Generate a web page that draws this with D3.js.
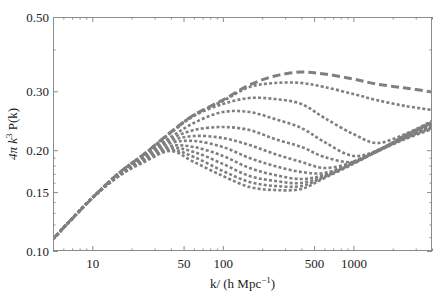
<!DOCTYPE html>
<html>
<head>
<meta charset="utf-8">
<script src="https://cdn.jsdelivr.net/npm/d3@7"></script>
<style>
  html, body { margin: 0; padding: 0; background: #fff; }
  svg { display: block; }
  text { font-family: "Liberation Serif", "DejaVu Serif", serif; fill: #222; }
</style>
</head>
<body>
<svg id="chart" width="436" height="295"></svg>
<script>
// ─── Data ─────────────────────────────────────────────────────────────────────
const kValues = [5, 10, 16, 25, 40, 60, 100, 160, 250, 400, 600, 1000, 1500, 2500, 4000];

const dashedCurve = [0.1086, 0.1440, 0.1710, 0.1949, 0.2267, 0.2548, 0.2825, 0.3132, 0.3332, 0.3425, 0.3378, 0.3264, 0.3154, 0.3068, 0.2985];

const dotted1  = [0.1086, 0.1440, 0.1710, 0.1949, 0.2267, 0.2548, 0.2806, 0.3089, 0.3176, 0.3176, 0.3089, 0.2944, 0.2825, 0.2711, 0.2638];
const dotted2  = [0.1086, 0.1440, 0.1710, 0.1949, 0.2251, 0.2531, 0.2748, 0.2864, 0.2844, 0.2748, 0.2497, 0.2236, 0.2102, 0.2236, 0.2446];
const dotted3  = [0.1086, 0.1440, 0.1710, 0.1936, 0.2190, 0.2412, 0.2601, 0.2601, 0.2479, 0.2330, 0.2116, 0.1923, 0.1989, 0.2221, 0.2429];
const dotted4  = [0.1086, 0.1440, 0.1698, 0.1923, 0.2160, 0.2298, 0.2346, 0.2298, 0.2160, 0.2045, 0.1909, 0.1845, 0.1989, 0.2205, 0.2412];
const dotted5  = [0.1086, 0.1440, 0.1698, 0.1909, 0.2131, 0.2205, 0.2175, 0.2073, 0.1949, 0.1845, 0.1770, 0.1845, 0.1989, 0.2190, 0.2396];
const dotted6  = [0.1086, 0.1440, 0.1687, 0.1896, 0.2102, 0.2131, 0.2045, 0.1896, 0.1794, 0.1722, 0.1710, 0.1845, 0.1989, 0.2190, 0.2379];
const dotted7  = [0.1086, 0.1440, 0.1687, 0.1883, 0.2059, 0.2045, 0.1923, 0.1770, 0.1687, 0.1641, 0.1687, 0.1845, 0.1989, 0.2190, 0.2363];
const dotted8  = [0.1086, 0.1440, 0.1675, 0.1871, 0.2031, 0.1976, 0.1820, 0.1675, 0.1619, 0.1597, 0.1675, 0.1832, 0.1989, 0.2175, 0.2346];
const dotted9  = [0.1086, 0.1440, 0.1675, 0.1858, 0.2003, 0.1909, 0.1734, 0.1608, 0.1564, 0.1564, 0.1664, 0.1832, 0.1976, 0.2175, 0.2330];
const dotted10 = [0.1086, 0.1440, 0.1675, 0.1845, 0.1989, 0.1845, 0.1675, 0.1553, 0.1521, 0.1532, 0.1652, 0.1820, 0.1976, 0.2160, 0.2314];

const dottedCurves = [dotted1, dotted2, dotted3, dotted4, dotted5, dotted6, dotted7, dotted8, dotted9, dotted10];

const xMajorTicks = [10, 50, 100, 500, 1000];
const xMinorTicks = [5, 6, 7, 8, 9, 20, 30, 40, 60, 70, 80, 90, 200, 300, 400, 600, 700, 800, 900, 2000, 3000, 4000];
const yMajorTicks = [0.10, 0.15, 0.20, 0.30, 0.50];
const yMinorTicks = [0.11, 0.12, 0.13, 0.14, 0.16, 0.17, 0.18, 0.19, 0.40];

// ─── Layout ──────────────────────────────────────────────────────────────────
const margin = { left: 53, right: 4, top: 17, bottom: 44 };
const W = 436, H = 295;
const plotW = W - margin.left - margin.right;
const plotH = H - margin.top - margin.bottom;

const svg = d3.select('#chart');

const x = d3.scaleLog().domain([5, 4000]).range([margin.left, margin.left + plotW]);
const y = d3.scaleLog().domain([0.1, 0.5]).range([margin.top + plotH, margin.top]);

const frameColor = '#8c8c8c';
const lineColor  = '#7f7f7f';

// Clip
svg.append('defs').append('clipPath').attr('id', 'plot-clip')
  .append('rect')
  .attr('x', margin.left).attr('y', margin.top)
  .attr('width', plotW).attr('height', plotH);

// ─── Curves ──────────────────────────────────────────────────────────────────
const line = d3.line()
  .x(d => x(d[0]))
  .y(d => y(d[1]))
  .curve(d3.curveCatmullRom.alpha(0.5));

const curvesG = svg.append('g').attr('clip-path', 'url(#plot-clip)');

dottedCurves.forEach(vals => {
  curvesG.append('path')
    .datum(kValues.map((k, i) => [k, vals[i]]))
    .attr('d', line)
    .attr('fill', 'none')
    .attr('stroke', lineColor)
    .attr('stroke-width', 2.6)
    .attr('stroke-dasharray', '3,2.2');
});

curvesG.append('path')
  .datum(kValues.map((k, i) => [k, dashedCurve[i]]))
  .attr('d', line)
  .attr('fill', 'none')
  .attr('stroke', lineColor)
  .attr('stroke-width', 3)
  .attr('stroke-dasharray', '8,4');

// ─── Frame + ticks ───────────────────────────────────────────────────────────
function styleAxis(g) {
  g.select('.domain').remove();
  g.selectAll('.tick line').attr('stroke', frameColor);
  g.selectAll('.tick text')
    .attr('font-family', '"Liberation Serif", serif')
    .attr('font-size', 13)
    .attr('fill', '#222');
}

const bottomY = margin.top + plotH;
const rightX  = margin.left + plotW;

svg.append('g').attr('transform', `translate(0,${bottomY})`)
  .call(d3.axisBottom(x).tickValues(xMajorTicks).tickFormat(d3.format('d')).tickSize(-5).tickPadding(8))
  .call(styleAxis);
svg.append('g').attr('transform', `translate(0,${bottomY})`)
  .call(d3.axisBottom(x).tickValues(xMinorTicks).tickFormat('').tickSize(-2.5))
  .call(styleAxis);
svg.append('g').attr('transform', `translate(0,${margin.top})`)
  .call(d3.axisTop(x).tickValues(xMajorTicks).tickFormat('').tickSize(-5))
  .call(styleAxis);
svg.append('g').attr('transform', `translate(0,${margin.top})`)
  .call(d3.axisTop(x).tickValues(xMinorTicks).tickFormat('').tickSize(-2.5))
  .call(styleAxis);

svg.append('g').attr('transform', `translate(${margin.left},0)`)
  .call(d3.axisLeft(y).tickValues(yMajorTicks).tickFormat(d3.format('.2f')).tickSize(-5).tickPadding(4))
  .call(styleAxis);
svg.append('g').attr('transform', `translate(${margin.left},0)`)
  .call(d3.axisLeft(y).tickValues(yMinorTicks).tickFormat('').tickSize(-2.5))
  .call(styleAxis);
svg.append('g').attr('transform', `translate(${rightX},0)`)
  .call(d3.axisRight(y).tickValues(yMajorTicks).tickFormat('').tickSize(-5))
  .call(styleAxis);
svg.append('g').attr('transform', `translate(${rightX},0)`)
  .call(d3.axisRight(y).tickValues(yMinorTicks).tickFormat('').tickSize(-2.5))
  .call(styleAxis);

svg.append('rect')
  .attr('x', margin.left + 0.5).attr('y', margin.top + 0.5)
  .attr('width', plotW - 1).attr('height', plotH - 1)
  .attr('fill', 'none')
  .attr('stroke', frameColor)
  .attr('stroke-width', 1);

// ─── Axis labels ─────────────────────────────────────────────────────────────
const xl = svg.append('text')
  .attr('x', margin.left + plotW / 2)
  .attr('y', 288)
  .attr('text-anchor', 'middle')
  .attr('font-size', 13);
xl.append('tspan').text('k/ (h Mpc');
xl.append('tspan').attr('font-size', 9).attr('dy', -5).text('\u22121');
xl.append('tspan').attr('dy', 5).text(')');

const yl = svg.append('text')
  .attr('transform', `translate(17,${margin.top + plotH / 2}) rotate(-90)`)
  .attr('text-anchor', 'middle')
  .attr('font-size', 13);
yl.append('tspan').attr('font-style', 'italic').text('4\u03c0 k');
yl.append('tspan').attr('font-size', 9).attr('dy', -5).text('3');
yl.append('tspan').attr('dy', 5).text(' P(k)');
</script>
</body>
</html>
